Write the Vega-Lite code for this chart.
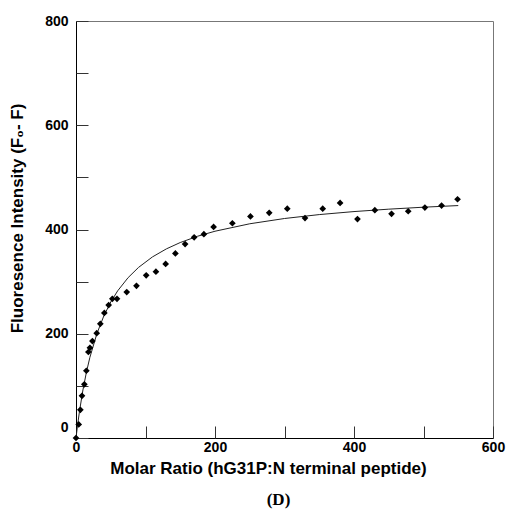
{
  "$schema": "https://vega.github.io/schema/vega-lite/v6.json",
  "width": 417,
  "height": 417,
  "autosize": "none",
  "padding": {"left": 76, "top": 21, "right": 14, "bottom": 72},
  "background": "white",
  "config": {"view": {"stroke": "#777", "strokeWidth": 1}, "font": "Liberation Sans"},
  "title": {"text": "(D)", "orient": "bottom", "font": "Liberation Serif", "fontSize": 17, "fontWeight": "bold", "color": "black", "offset": 16, "dx": -6},
  "datasets": {
    "points": [
      {"x": 0, "y": 0}, {"x": 3.9, "y": 26}, {"x": 6.3, "y": 54}, {"x": 8.6, "y": 81}, {"x": 12, "y": 103},
      {"x": 14.9, "y": 129}, {"x": 17.8, "y": 165}, {"x": 20, "y": 173}, {"x": 23.6, "y": 186}, {"x": 29.8, "y": 201},
      {"x": 35, "y": 219}, {"x": 40.8, "y": 240}, {"x": 47, "y": 255}, {"x": 52.3, "y": 267}, {"x": 59, "y": 267},
      {"x": 73, "y": 280}, {"x": 87, "y": 292}, {"x": 101, "y": 312}, {"x": 115, "y": 319}, {"x": 129, "y": 334},
      {"x": 143, "y": 354}, {"x": 157, "y": 372}, {"x": 170, "y": 385}, {"x": 184, "y": 391}, {"x": 198, "y": 405},
      {"x": 225, "y": 412}, {"x": 251, "y": 425}, {"x": 278, "y": 432}, {"x": 304, "y": 440}, {"x": 329.5, "y": 422},
      {"x": 355, "y": 440}, {"x": 380, "y": 451}, {"x": 405, "y": 420}, {"x": 430, "y": 437}, {"x": 454, "y": 430},
      {"x": 478, "y": 435}, {"x": 502, "y": 442}, {"x": 526, "y": 446}, {"x": 549, "y": 458}
    ],
    "fit": [
      {"x": 0, "y": 0}, {"x": 2, "y": 21.8}, {"x": 5, "y": 51.1}, {"x": 10, "y": 92.3}, {"x": 15, "y": 126.3},
      {"x": 20, "y": 154.8}, {"x": 30, "y": 200}, {"x": 40, "y": 234.1}, {"x": 50, "y": 260.9}, {"x": 60, "y": 282.4},
      {"x": 75, "y": 307.7}, {"x": 90, "y": 327.3}, {"x": 110, "y": 347.4}, {"x": 130, "y": 362.8}, {"x": 150, "y": 375},
      {"x": 175, "y": 387.1}, {"x": 200, "y": 396.7}, {"x": 250, "y": 411}, {"x": 300, "y": 421.1}, {"x": 350, "y": 428.6},
      {"x": 400, "y": 434.4}, {"x": 450, "y": 439}, {"x": 500, "y": 442.8}, {"x": 550, "y": 445.9}
    ]
  },
  "resolve": {"axis": {"x": "independent", "y": "independent"}},
  "layer": [
    {
      "data": {"name": "fit"},
      "mark": {"type": "line", "color": "#222", "strokeWidth": 1},
      "encoding": {
        "x": {
          "field": "x", "type": "quantitative",
          "scale": {"domain": [0, 600], "nice": false, "zero": true},
          "axis": {
            "orient": "bottom",
            "title": "Molar Ratio (hG31P:N terminal peptide)",
            "values": [0, 200, 400, 600],
            "ticks": false,
            "labelPadding": 2,
            "labelFont": "Liberation Sans", "labelFontWeight": "bold", "labelFontSize": 14, "labelColor": "black",
            "labelFlush": false, "labelOverlap": false,
            "domainColor": "black", "grid": false,
            "titleFont": "Liberation Sans", "titleFontWeight": "bold", "titleFontSize": 17, "titleColor": "black",
            "titleX": 192, "titleY": 22
          }
        },
        "y": {
          "field": "y", "type": "quantitative",
          "scale": {"domain": [0, 800], "nice": false, "zero": true},
          "axis": {
            "orient": "left",
            "title": "Fluoresence Intensity (F₀- F)",
            "values": [0, 200, 400, 600, 800],
            "ticks": false,
            "labelPadding": 8,
            "labelOffset": {"condition": {"test": "datum.value === 0", "value": -11}, "value": 0},
            "labelFont": "Liberation Sans", "labelFontWeight": "bold", "labelFontSize": 14, "labelColor": "black",
            "labelFlush": false, "labelOverlap": false,
            "domainColor": "black", "grid": false,
            "titleFont": "Liberation Sans", "titleFontWeight": "bold", "titleFontSize": 17, "titleColor": "black",
            "titleX": -50, "titleY": 197
          }
        }
      }
    },
    {
      "data": {"name": "points"},
      "mark": {"type": "point", "shape": "diamond", "filled": true, "color": "black", "size": 45, "opacity": 1},
      "encoding": {
        "x": {
          "field": "x", "type": "quantitative",
          "scale": {"domain": [0, 600], "nice": false, "zero": true},
          "axis": {
            "orient": "top", "offset": -417, "title": null, "labels": false, "domain": false, "grid": false,
            "values": [0, 100, 200, 300, 400, 500, 600],
            "tickSize": 12, "tickColor": "#333", "tickWidth": 1
          }
        },
        "y": {
          "field": "y", "type": "quantitative",
          "scale": {"domain": [0, 800], "nice": false, "zero": true},
          "axis": {
            "orient": "right", "offset": -417, "title": null, "labels": false, "domain": false, "grid": false,
            "values": [0, 100, 200, 300, 400, 500, 600, 700, 800],
            "tickSize": 12, "tickColor": "#333", "tickWidth": 1
          }
        }
      }
    }
  ]
}
